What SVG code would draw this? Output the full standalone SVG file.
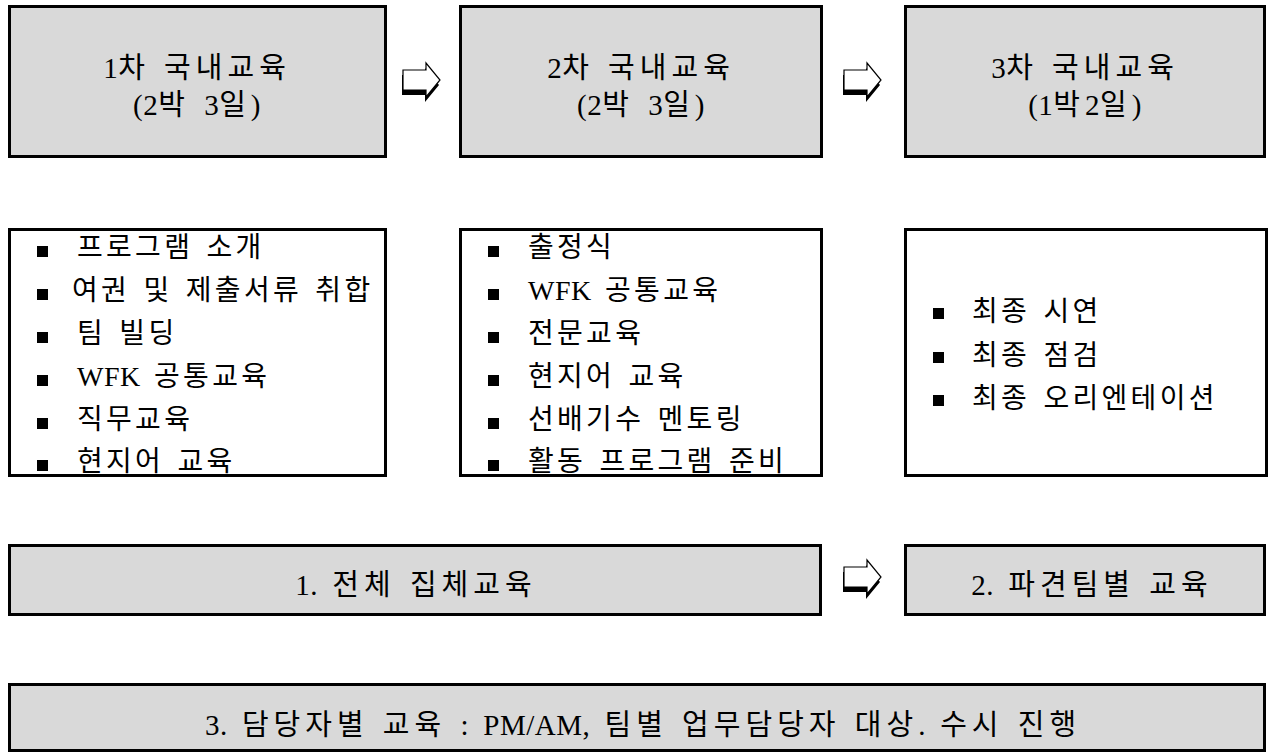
<svg xmlns="http://www.w3.org/2000/svg" width="1273" height="755" viewBox="0 0 1273 755">
<style>
.box{fill:#d9d9d9;stroke:#000;stroke-width:3}
.wbox{fill:#fff;stroke:#000;stroke-width:3}
.t{font-family:"Liberation Serif","Noto Sans CJK KR",serif;fill:#000}
.h{font-size:29px;text-anchor:middle;letter-spacing:5px;word-spacing:2px}
.l{font-size:28px;letter-spacing:3.3px;word-spacing:3px}
.lat{letter-spacing:0.5px}
.b{fill:#000}
.arr{fill:#fff;stroke:#000;stroke-width:1.2;stroke-linejoin:miter}
.sh{fill:#000}
</style>
<defs>
<path id="ar" d="M0,7 H23 V0 L37,17 L23,34 V27 H0 Z"/>
<rect id="bl" width="11" height="11"/>
</defs>
<rect width="1273" height="755" fill="#fff"/>

<g id="connectors">
  <g transform="translate(403,63)">
    <use href="#ar" class="sh" transform="translate(-1,5)"/>
    <use href="#ar" class="arr"/>
  </g>
  <g transform="translate(844,63)">
    <use href="#ar" class="sh" transform="translate(-1,5)"/>
    <use href="#ar" class="arr"/>
  </g>
  <g transform="translate(844,560)">
    <use href="#ar" class="sh" transform="translate(-1,5)"/>
    <use href="#ar" class="arr"/>
  </g>
</g>

<g id="stage1">
  <rect class="box" x="9.5" y="6.5" width="376" height="150"/>
  <text class="t h" x="197" y="78"><tspan class="lat">1</tspan>차 국내교육</text>
  <text class="t h" x="197" y="115"><tspan class="lat">(2</tspan>박 <tspan class="lat">3</tspan>일<tspan class="lat">)</tspan></text>
</g>
<g id="stage2">
  <rect class="box" x="460.5" y="6.5" width="361" height="150"/>
  <text class="t h" x="641" y="78"><tspan class="lat">2</tspan>차 국내교육</text>
  <text class="t h" x="641" y="115"><tspan class="lat">(2</tspan>박 <tspan class="lat">3</tspan>일<tspan class="lat">)</tspan></text>
</g>
<g id="stage3">
  <rect class="box" x="905.5" y="6.5" width="359" height="150"/>
  <text class="t h" x="1085" y="78"><tspan class="lat">3</tspan>차 국내교육</text>
  <text class="t h" x="1085" y="115"><tspan class="lat">(1</tspan>박<tspan class="lat">2</tspan>일<tspan class="lat">)</tspan></text>
</g>

<g id="list1">
  <rect class="wbox" x="9.5" y="229.5" width="376" height="246"/>
  <g class="b">
    <use href="#bl" x="37" y="246"/>
    <use href="#bl" x="37" y="289"/>
    <use href="#bl" x="37" y="332"/>
    <use href="#bl" x="37" y="375"/>
    <use href="#bl" x="37" y="418"/>
    <use href="#bl" x="37" y="460"/>
  </g>
  <text class="t l" x="77" y="257">프로그램 소개</text>
  <text class="t l" x="72" y="300">여권 및 제출서류 취합</text>
  <text class="t l" x="77" y="343">팀 빌딩</text>
  <text class="t l" x="77" y="386"><tspan class="lat">WFK</tspan> 공통교육</text>
  <text class="t l" x="77" y="429">직무교육</text>
  <text class="t l" x="77" y="471">현지어 교육</text>
</g>

<g id="list2">
  <rect class="wbox" x="460.5" y="229.5" width="361" height="246"/>
  <g class="b">
    <use href="#bl" x="488" y="246"/>
    <use href="#bl" x="488" y="289"/>
    <use href="#bl" x="488" y="332"/>
    <use href="#bl" x="488" y="375"/>
    <use href="#bl" x="488" y="418"/>
    <use href="#bl" x="488" y="460"/>
  </g>
  <text class="t l" x="528" y="257">출정식</text>
  <text class="t l" x="528" y="300"><tspan class="lat">WFK</tspan> 공통교육</text>
  <text class="t l" x="528" y="343">전문교육</text>
  <text class="t l" x="528" y="386">현지어 교육</text>
  <text class="t l" x="528" y="429">선배기수 멘토링</text>
  <text class="t l" x="528" y="471">활동 프로그램 준비</text>
</g>

<g id="list3">
  <rect class="wbox" x="905.5" y="229.5" width="361" height="246"/>
  <g class="b">
    <use href="#bl" x="933" y="308"/>
    <use href="#bl" x="933" y="352"/>
    <use href="#bl" x="933" y="395"/>
  </g>
  <text class="t l" x="972" y="321">최종 시연</text>
  <text class="t l" x="972" y="365">최종 점검</text>
  <text class="t l" x="972" y="408">최종 오리엔테이션</text>
</g>

<g id="group-edu">
  <rect class="box" x="9.5" y="545.5" width="811" height="69"/>
  <text class="t h" x="416" y="595"><tspan class="lat">1.</tspan> 전체 집체교육</text>
</g>
<g id="team-edu">
  <rect class="box" x="905.5" y="545.5" width="359" height="69"/>
  <text class="t h" x="1092" y="595"><tspan class="lat">2.</tspan> 파견팀별 교육</text>
</g>
<g id="staff-edu">
  <rect class="box" x="9.5" y="684.5" width="1255" height="66"/>
  <text class="t h" x="643" y="735"><tspan class="lat">3.</tspan> 담당자별 교육 <tspan class="lat">:</tspan> <tspan class="lat">PM/AM,</tspan> 팀별 업무담당자 대상<tspan class="lat">.</tspan> 수시 진행</text>
</g>
</svg>
